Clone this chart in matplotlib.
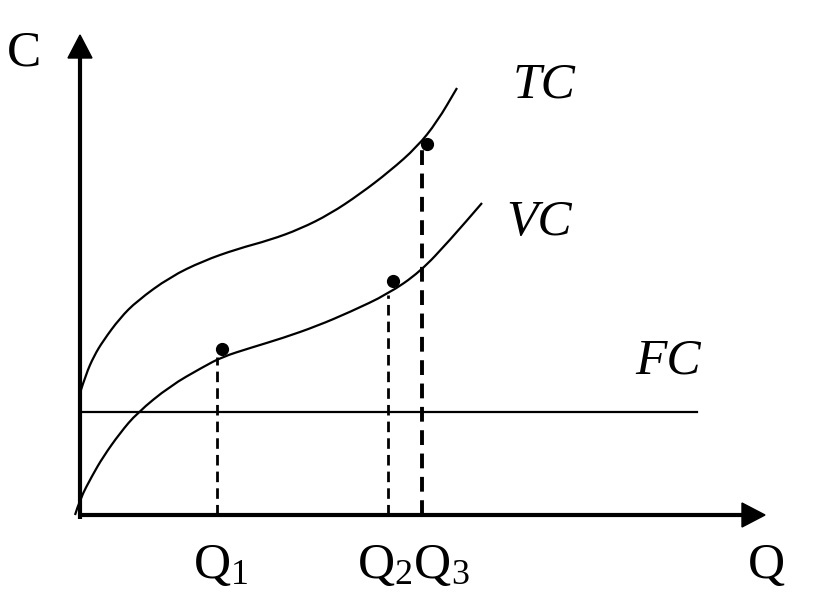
import matplotlib
matplotlib.use("Agg")
import matplotlib.pyplot as plt
from matplotlib.path import Path
from matplotlib.patches import PathPatch

plt.rcParams["font.family"] = ["Liberation Serif", "DejaVu Serif"]
plt.rcParams["mathtext.fontset"] = "custom"
plt.rcParams["mathtext.rm"] = "Liberation Serif"
plt.rcParams["mathtext.it"] = "Liberation Serif:italic"

# curves (Q, C)
tc_q = [0, 6, 14, 23, 40, 57, 90, 123, 157, 190, 220, 250, 280, 310, 337, 357, 377]
tc_c = [122, 141, 159, 174, 197, 214, 238, 254, 266, 275, 286, 301, 321, 344, 368, 393, 427]

vc_q = [-5, 0, 12, 23, 40, 57, 90, 123, 142, 170, 203, 237, 270, 308, 340, 370, 402]
vc_c = [0, 16, 39, 58, 82, 102, 129, 148, 158, 167, 177, 189, 203, 221, 243, 275, 312]

fc_q = [0, 617]
fc_c = [103, 103]

# marked points Q1, Q2, Q3
dot_q = [142, 313, 347]
dot_c = [166, 234, 371]
drop_q = [137, 308, 342]
drop_c = [158, 220, 365]
drop_lw = [2.0, 2.0, 2.8]

q_labels = [r"$\mathrm{Q}_1$", r"$\mathrm{Q}_2\mathrm{Q}_3$", "Q"]
q_label_x = [113, 277, 668]


def smooth_curve(q, c):
    # quadratic bezier through the midpoints, read points act as controls
    verts = [(q[0], c[0])]
    codes = [Path.MOVETO]
    for i in range(1, len(q) - 1):
        verts += [(q[i], c[i]), ((q[i] + q[i + 1]) / 2, (c[i] + c[i + 1]) / 2)]
        codes += [Path.CURVE3, Path.CURVE3]
    verts.append((q[-1], c[-1]))
    codes.append(Path.LINETO)
    return PathPatch(Path(verts, codes), fill=False, edgecolor="black", lw=1.6)


fig = plt.figure(figsize=(8.32, 6.01), dpi=100)
ax = fig.add_axes([0, 0, 1, 1])
ax.set_xlim(-80, 752)
ax.set_ylim(-86, 515)
ax.axis("off")

# axes with arrow heads
ax.plot([0, 0], [-4, 458], color="black", lw=3, solid_capstyle="butt")
ax.fill([-12, 12, 0], [457, 457, 480], color="black")
ax.plot([-2, 663], [0, 0], color="black", lw=3, solid_capstyle="butt")
ax.fill([662, 662, 685], [-12, 12, 0], color="black")

ax.add_patch(smooth_curve(tc_q, tc_c))
ax.add_patch(smooth_curve(vc_q, vc_c))
ax.plot(fc_q, fc_c, color="black", lw=1.6)

for q, c, w in zip(drop_q, drop_c, drop_lw):
    ax.plot([q, q], [0, c], color="black", lw=w, linestyle=(0, (3.8, 2.2)))

ax.plot(dot_q, dot_c, "o", color="black", ms=8.5)

fs = 37
ax.text(-73, 450, "C", fontsize=fs, ha="left", va="baseline")
ax.text(433, 417, "TC", fontsize=fs, style="italic", ha="left", va="baseline")
ax.text(426, 280, "VC", fontsize=fs, style="italic", ha="left", va="baseline")
ax.text(555, 142, "FC", fontsize=fs, style="italic", ha="left", va="baseline")
for lab, x in zip(q_labels, q_label_x):
    ax.text(x, -63, lab, fontsize=fs, ha="left", va="baseline")

fig.savefig("out.png", dpi=100)
